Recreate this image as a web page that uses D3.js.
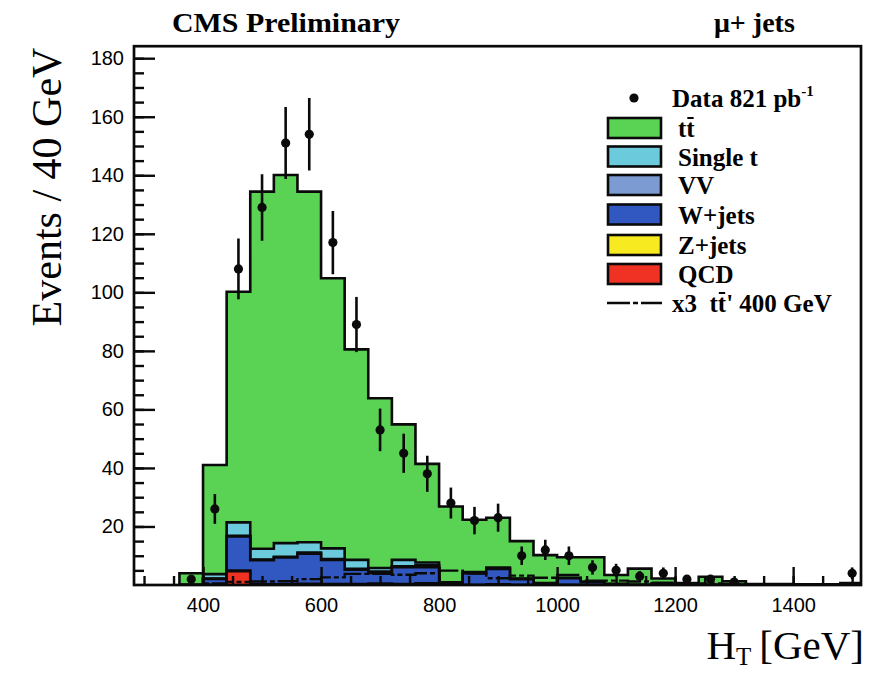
<!DOCTYPE html>
<html>
<head>
<meta charset="utf-8">
<script src="https://cdn.jsdelivr.net/npm/d3@7"></script>
<style>
  body { margin: 0; background: #ffffff; }
  svg text { fill: #000; }
</style>
</head>
<body>
<svg id="chart" width="875" height="673"></svg>
<script>
// Lower edges of the 40 GeV H_T bins
const binLow = [360, 400, 440, 480, 520, 560, 600, 640, 680, 720, 760, 800, 840, 880, 920,
                960, 1000, 1040, 1080, 1120, 1160, 1200, 1240, 1280, 1320, 1360, 1400, 1440, 1480];
const binWidth = 40;

// Simulated backgrounds (events per bin)
const ttbar     = [4.0, 37.3, 78.8, 122.0, 125.8, 119.8, 92.3, 71.9, 58.0, 46.3, 33.7, 25.9, 17.9, 17.0, 12.8,
                   9.5, 7.0, 8.4, 3.1, 5.6, 2.0, 0.7, 2.8, 1.3, 0.3, 0.3, 0.2, 0.2, 0.7];
const singleTop = [0, 1.5, 4.6, 3.7, 4.7, 3.5, 3.6, 3.1, 1.2, 2.2, 1.0, 0.3, 0.2, 0.3, 0.2,
                   0.1, 0.2, 0.1, 0, 0, 0, 0, 0, 0, 0, 0, 0, 0, 0];
const diboson   = [0, 0.1, 0.2, 0.2, 0.2, 0.4, 0.3, 0.3, 0.5, 0.3, 0.6, 0, 0.2, 0.2, 0,
                   0, 0, 0, 0, 0, 0, 0, 0, 0, 0, 0, 0, 0, 0];
const wjets     = [0, 2.0, 11.7, 8.3, 9.2, 10.3, 8.3, 4.9, 3.6, 5.8, 5.5, 0.6, 4.0, 5.3, 2.0,
                   0.6, 2.3, 1.0, 0.3, 0, 0.2, 0, 0, 0, 0, 0, 0, 0, 0];
const zjets     = [0, 0.1, 0.2, 0.2, 0.2, 0.4, 0.3, 0.3, 0.5, 0.3, 0.6, 0, 0, 0.2, 0,
                   0, 0, 0, 0, 0, 0, 0, 0, 0, 0, 0, 0, 0, 0];
const qcd       = [0, 0, 4.7, 0, 0, 0, 0, 0, 0, 0, 0, 0, 0, 0, 0,
                   0, 0, 0, 0, 0, 0, 0, 0, 0, 0, 0, 0, 0, 0];

// t' (400 GeV) signal, scaled by 3
const signalX3  = [0, 0.5, 1.0, 1.2, 1.3, 2.0, 2.6, 3.8, 3.8, 3.5, 4.0, 4.9, 3.9, 2.3, 3.2,
                   2.5, 3.4, 1.5, 1.5, 1.2, 0.8, 0.6, 0.5, 0.4, 0.3, 0.2, 0.2, 0.1, 0.1];

// Observed events
const dataCounts = [2, 26, 108, 129, 151, 154, 117, 89, 53, 45, 38, 28, 22, 23, 10,
                    12, 10, 6, 5, 3, 4, 2, 2, 1, 0, 0, 0, 0, 4];

// Axis ticks
const xMajorTicks = [400, 600, 800, 1000, 1200, 1400];
const xMinorTicks = d3.range(300, 1501, 50);
const yMajorTicks = [20, 40, 60, 80, 100, 120, 140, 160, 180];
const yMinorTicks = d3.range(5, 185, 5);

// Stack order, bottom to top
const stackKeys   = ["qcd", "zjets", "wjets", "vv", "singletop", "ttbar"];
const stackSeries = { qcd: qcd, zjets: zjets, wjets: wjets, vv: diboson, singletop: singleTop, ttbar: ttbar };
const fillColor   = { ttbar: "#5ad354", singletop: "#6bcbdd", vv: "#7d9bd3", wjets: "#3158c0", zjets: "#f8ea20", qcd: "#f03224" };

const legendRows = [
  { kind: "data",  label: "Data 821 pb" },
  { kind: "box",   key: "ttbar",     label: "tt" },
  { kind: "box",   key: "singletop", label: "Single t" },
  { kind: "box",   key: "vv",        label: "VV" },
  { kind: "box",   key: "wjets",     label: "W+jets" },
  { kind: "box",   key: "zjets",     label: "Z+jets" },
  { kind: "box",   key: "qcd",       label: "QCD" },
  { kind: "line",  label: "x3  tt' 400 GeV" }
];

const svg = d3.select("#chart");
const frame = { left: 134, right: 861, top: 46.2, bottom: 585 };

const x = d3.scaleLinear().domain([283, 1515]).range([frame.left, frame.right]);
const y = d3.scaleLinear().domain([0, 184.1]).range([frame.bottom, frame.top]);

svg.append("defs").append("clipPath").attr("id", "plotClip")
  .append("rect")
  .attr("x", frame.left).attr("y", frame.top)
  .attr("width", frame.right - frame.left).attr("height", frame.bottom - frame.top);

const plot = svg.append("g").attr("clip-path", "url(#plotClip)");

// Cumulative stack
const table = binLow.map((lo, i) => {
  const row = { lo: lo };
  stackKeys.forEach(k => row[k] = stackSeries[k][i]);
  return row;
});
const layers = d3.stack().keys(stackKeys)(table);

function stepPoints(values) {
  const pts = [];
  values.forEach((v, i) => {
    pts.push([binLow[i], v]);
    pts.push([binLow[i] + binWidth, v]);
  });
  return pts;
}

const areaGen = d3.area()
  .x(d => x(d[0]))
  .y0(y(0))
  .y1(d => y(d[1]));
const lineGen = d3.line()
  .x(d => x(d[0]))
  .y(d => y(d[1]));

// Draw from the full sum downward so lower layers sit on top
for (let li = layers.length - 1; li >= 0; li--) {
  const layer = layers[li];
  const tops = layer.map(d => d[1]);
  const pts = stepPoints(tops);
  plot.append("path")
    .attr("d", areaGen(pts))
    .attr("fill", fillColor[layer.key])
    .attr("stroke", "none");
  const outline = [[binLow[0], 0]].concat(pts, [[binLow[binLow.length - 1] + binWidth, 0]]);
  plot.append("path")
    .attr("d", lineGen(outline))
    .attr("fill", "none")
    .attr("stroke", "#0a0a0a")
    .attr("stroke-width", 2.6)
    .attr("stroke-linejoin", "miter");
}

// Signal, dash-dotted step line
const sigPts = [[binLow[0], 0]].concat(stepPoints(signalX3), [[binLow[binLow.length - 1] + binWidth, 0]]);
plot.append("path")
  .attr("d", lineGen(sigPts))
  .attr("fill", "none")
  .attr("stroke", "#0a0a0a")
  .attr("stroke-width", 2.4)
  .attr("stroke-dasharray", "23,3,5,3");

// Data points with Poisson errors
const dataPts = binLow.map((lo, i) => ({ c: lo + binWidth / 2, n: dataCounts[i] })).filter(d => d.n > 0);
const dataG = plot.append("g");
dataG.selectAll("line.err").data(dataPts).join("line")
  .attr("class", "err")
  .attr("x1", d => x(d.c)).attr("x2", d => x(d.c))
  .attr("y1", d => y(d.n + Math.sqrt(d.n)))
  .attr("y2", d => y(Math.max(0, d.n - Math.sqrt(d.n))))
  .attr("stroke", "#0a0a0a").attr("stroke-width", 2.6);
dataG.selectAll("circle").data(dataPts).join("circle")
  .attr("cx", d => x(d.c)).attr("cy", d => y(d.n))
  .attr("r", 4.6).attr("fill", "#0a0a0a");

// Axes (ticks drawn inward, over the histograms)
const axisG = svg.append("g");
const xMinorAxis = d3.axisBottom(x).tickValues(xMinorTicks).tickSize(-9).tickFormat("");
const xMajorAxis = d3.axisBottom(x).tickValues(xMajorTicks).tickSize(-18).tickPadding(13).tickFormat(d3.format("d"));
const yMinorAxis = d3.axisLeft(y).tickValues(yMinorTicks).tickSize(-10).tickFormat("");
const yMajorAxis = d3.axisLeft(y).tickValues(yMajorTicks).tickSize(-21).tickPadding(10).tickFormat(d3.format("d"));

[xMinorAxis, xMajorAxis].forEach(ax => {
  axisG.append("g").attr("transform", `translate(0,${frame.bottom})`).call(ax);
});
[yMinorAxis, yMajorAxis].forEach(ax => {
  axisG.append("g").attr("transform", `translate(${frame.left},0)`).call(ax);
});
axisG.selectAll(".domain").remove();
axisG.selectAll(".tick line").attr("stroke", "#0a0a0a").attr("stroke-width", 2.4);
axisG.selectAll(".tick text")
  .attr("font-family", "'Liberation Sans', Arial, sans-serif")
  .attr("font-size", 20)
  .attr("fill", "#000");

// Frame
svg.append("rect")
  .attr("x", frame.left).attr("y", frame.top)
  .attr("width", frame.right - frame.left).attr("height", frame.bottom - frame.top)
  .attr("fill", "none").attr("stroke", "#0a0a0a").attr("stroke-width", 2.7);

// Titles
const serif = "'Liberation Serif', 'Times New Roman', serif";
svg.append("text")
  .attr("x", 172).attr("y", 32)
  .attr("font-family", serif).attr("font-weight", "bold").attr("font-size", 28)
  .attr("textLength", 228).attr("lengthAdjust", "spacingAndGlyphs")
  .text("CMS Preliminary");
svg.append("text")
  .attr("x", 714).attr("y", 32)
  .attr("font-family", serif).attr("font-weight", "bold").attr("font-size", 28)
  .text("μ+ jets");

svg.append("text")
  .attr("transform", "translate(61,187) rotate(-90)")
  .attr("text-anchor", "middle")
  .attr("font-family", serif).attr("font-size", 42)
  .text("Events / 40 GeV");

// x-axis title built from three pieces: H, subscript T, [GeV]
const unitText = svg.append("text")
  .attr("x", 864).attr("y", 659)
  .attr("text-anchor", "end")
  .attr("font-family", serif).attr("font-size", 41)
  .text("[GeV]");
const unitLeft = 864 - unitText.node().getComputedTextLength();
const subText = svg.append("text")
  .attr("x", unitLeft - 8).attr("y", 665)
  .attr("text-anchor", "end")
  .attr("font-family", serif).attr("font-size", 25)
  .text("T");
const subLeft = unitLeft - 8 - subText.node().getComputedTextLength();
svg.append("text")
  .attr("x", subLeft).attr("y", 659)
  .attr("text-anchor", "end")
  .attr("font-family", serif).attr("font-size", 41)
  .text("H");

// Legend
const legend = svg.append("g");
const rowY = [98, 128, 156.5, 185, 214.5, 245, 274, 303];
function barOver(textSel, charIndex, capTop) {
  const node = textSel.node();
  const x0 = node.getStartPositionOfChar(charIndex).x;
  const x1 = node.getEndPositionOfChar(charIndex).x;
  legend.append("line")
    .attr("x1", x0 + 1).attr("x2", x1 - 1)
    .attr("y1", capTop).attr("y2", capTop)
    .attr("stroke", "#000").attr("stroke-width", 2);
}
legendRows.forEach((r, i) => {
  const cy = rowY[i];
  if (r.kind === "data") {
    legend.append("circle").attr("cx", 634).attr("cy", cy).attr("r", 4.6).attr("fill", "#0a0a0a");
  } else if (r.kind === "box") {
    legend.append("rect")
      .attr("x", 608).attr("y", cy - 10).attr("width", 53).attr("height", 20)
      .attr("fill", fillColor[r.key]).attr("stroke", "#0a0a0a").attr("stroke-width", 2.6);
  } else {
    legend.append("line")
      .attr("x1", 607).attr("x2", 662).attr("y1", cy).attr("y2", cy)
      .attr("stroke", "#0a0a0a").attr("stroke-width", 2.4)
      .attr("stroke-dasharray", "23,3,5,3");
  }
  const tx = (r.kind === "box") ? 678 : 672;
  const t = legend.append("text")
    .attr("x", tx).attr("y", cy + 9)
    .attr("font-family", serif).attr("font-weight", "bold").attr("font-size", 25)
    .style("white-space", "pre")
    .text(r.label);
  if (r.kind === "data") {
    t.append("tspan").attr("font-size", 15).attr("dy", -11).text("-1");
  }
  if (r.key === "ttbar") barOver(t, 1, cy - 10);
  if (r.kind === "line") barOver(t, 5, cy - 10);
});
</script>
</body>
</html>
